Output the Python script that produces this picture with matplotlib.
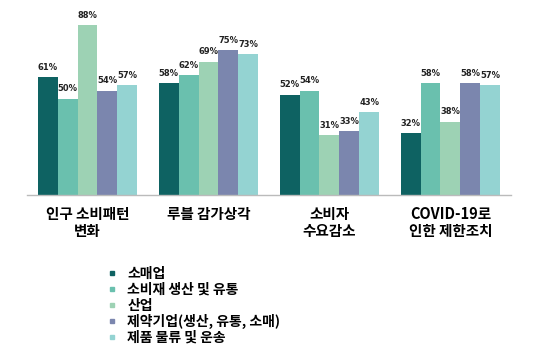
import matplotlib
matplotlib.use("Agg")
import matplotlib.pyplot as plt
import numpy as np
from matplotlib.lines import Line2D

plt.rcParams['font.family'] = ['Noto Sans CJK KR', 'DejaVu Sans']

categories = ['인구 소비패턴\n변화', '루블 감가상각', '소비자\n수요감소', 'COVID-19로\n인한 제한조치']
series_names = ['소매업', '소비재 생산 및 유통', '산업', '제약기업(생산, 유통, 소매)', '제품 물류 및 운송']
retail = [61, 58, 52, 32]
consumer_goods = [50, 62, 54, 58]
industry = [88, 69, 31, 38]
pharma = [54, 75, 33, 58]
logistics = [57, 73, 43, 57]
series_values = [retail, consumer_goods, industry, pharma, logistics]
colors = ['#0e6262', '#6ac0ae', '#9dd2b4', '#7b86ae', '#94d3d2']

fig = plt.figure(figsize=(5.4, 3.52), dpi=100)
ax = fig.add_axes([0.05, 0.446, 0.896, 0.548])

x = np.arange(len(categories))
width = 0.164
for i, (vals, color) in enumerate(zip(series_values, colors)):
    pos = x + (i - 2) * width
    ax.bar(pos, vals, width=width, color=color)
    for px, v in zip(pos, vals):
        ax.annotate(f'{v}%', (px, v), xytext=(0, 4), textcoords='offset points',
                    ha='center', va='bottom', fontsize=6, fontweight='bold',
                    color='#222222', family=['DejaVu Sans'])

ax.set_xlim(-0.5, 3.5)
ax.set_ylim(0, 100)
ax.set_xticks(x)
ax.set_xticklabels(categories, fontsize=10.5, fontweight='bold', linespacing=1.1)
ax.tick_params(axis='x', length=0, pad=8)
ax.set_yticks([])
for side in ['top', 'right', 'left']:
    ax.spines[side].set_visible(False)
ax.spines['bottom'].set_color('#bbbbbb')
ax.spines['bottom'].set_linewidth(1.0)

handles = [Line2D([], [], marker='s', linestyle='none', markersize=3.5, color=c) for c in colors]
leg = fig.legend(handles, series_names, loc='upper left', bbox_to_anchor=(0.2, 0.241),
                 frameon=False, handlelength=0.6, handletextpad=0.78, labelspacing=0.12,
                 borderaxespad=0, borderpad=0, prop={'size': 10, 'weight': 'bold'})

fig.savefig('out.png', dpi=100)
